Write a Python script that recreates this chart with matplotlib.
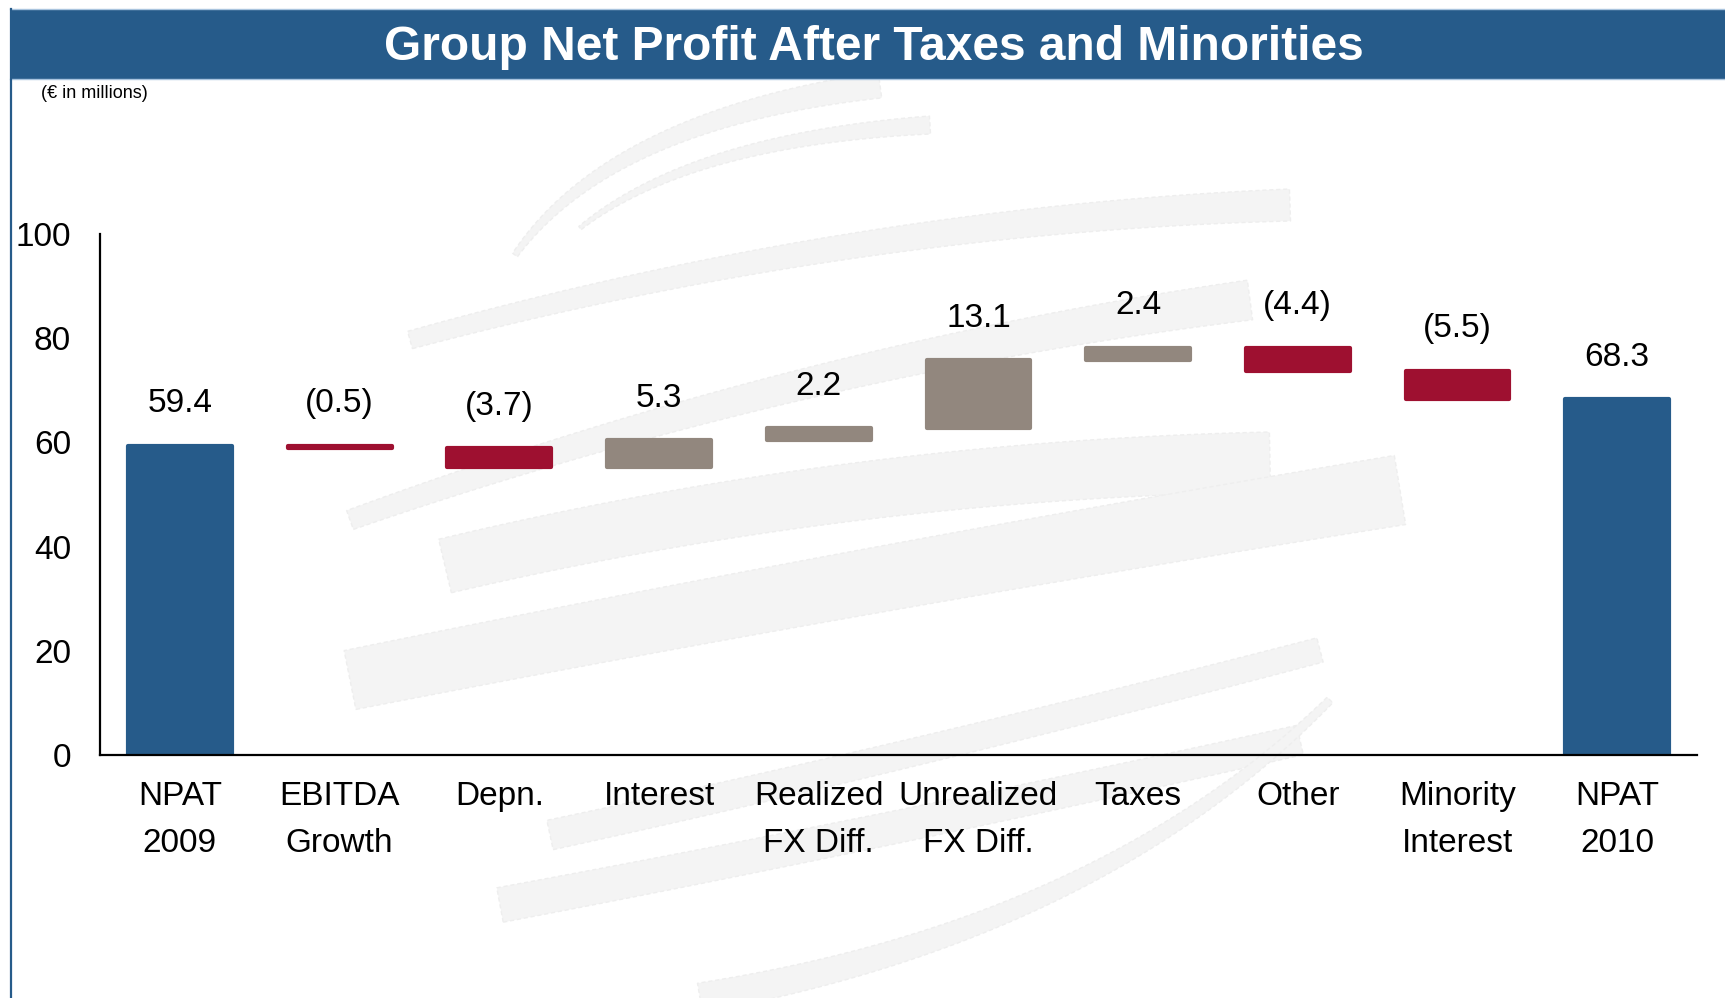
import numpy as np
import matplotlib
matplotlib.use("Agg")
import matplotlib.pyplot as plt
from matplotlib.patches import Rectangle, Polygon

plt.rcParams['font.family'] = ['Liberation Sans', 'DejaVu Sans']

# waterfall data (EUR millions)
categories = ['NPAT\n2009', 'EBITDA\nGrowth', 'Depn.', 'Interest', 'Realized\nFX Diff.',
              'Unrealized\nFX Diff.', 'Taxes', 'Other', 'Minority\nInterest', 'NPAT\n2010']
values = [59.4, -0.5, -3.7, 5.3, 2.2, 13.1, 2.4, -4.4, -5.5, 68.3]
is_total = [True, False, False, False, False, False, False, False, False, True]
value_labels = ['59.4', '(0.5)', '(3.7)', '5.3', '2.2', '13.1', '2.4', '(4.4)', '(5.5)', '68.3']

BLUE = '#265B8A'
RED = '#9E1030'
GREY = '#92877E'

# bottoms / heights for the floating bars
bottoms, heights, colors = [], [], []
running = 0.0
for v, tot in zip(values, is_total):
    if tot:
        bottoms.append(0.0)
        heights.append(v)
        colors.append(BLUE)
        running = v
    else:
        bottoms.append(running + min(v, 0))
        heights.append(abs(v))
        colors.append(GREY if v > 0 else RED)
        running += v
bottoms = np.array(bottoms)
heights = np.array(heights)

fig = plt.figure(figsize=(17.25, 9.98), dpi=100)

# background layer in pixel coordinates
bg = fig.add_axes([0, 0, 1, 1])
bg.set_xlim(0, 1725)
bg.set_ylim(998, 0)
bg.axis('off')


def swoosh(p0, p1, p2, w0, w1, n=80):
    p0, p1, p2 = map(np.asarray, (p0, p1, p2))
    t = np.linspace(0, 1, n)[:, None]
    pts = (1 - t) ** 2 * p0 + 2 * (1 - t) * t * p1 + t ** 2 * p2
    d = 2 * (1 - t) * (p1 - p0) + 2 * t * (p2 - p1)
    nrm = np.c_[-d[:, 1], d[:, 0]] / np.hypot(d[:, 0], d[:, 1])[:, None]
    w = (w0 + (w1 - w0) * t) / 2
    poly = np.vstack([pts + nrm * w, (pts - nrm * w)[::-1]])
    bg.add_patch(Polygon(poly, closed=True, fc='#F4F4F4', ec='#EEEEEE', lw=1,
                         ls=(0, (3, 2)), zorder=0))


# faint globe watermark
swoosh((515, 255), (610, 120), (880, 85), 6, 26)
swoosh((580, 228), (690, 140), (930, 125), 4, 18)
swoosh((410, 340), (850, 220), (1290, 205), 18, 32)
swoosh((350, 520), (800, 360), (1250, 300), 20, 40)
swoosh((445, 566), (850, 470), (1270, 462), 55, 60)
swoosh((350, 680), (850, 580), (1400, 490), 60, 70)
swoosh((550, 835), (900, 760), (1320, 650), 30, 25)
swoosh((500, 905), (900, 830), (1300, 740), 35, 30)
swoosh((700, 998), (1100, 930), (1330, 700), 30, 8)

# title band
bg.add_patch(Rectangle((10, 9), 1715, 70, fc=BLUE, ec='none', zorder=2))
bg.plot([10, 1725], [9, 9], color='#A9C4DE', lw=1, zorder=3)
bg.plot([10, 1725], [79, 79], color='#A9C4DE', lw=1, zorder=3)
bg.plot([10.5, 10.5], [9, 998], color=BLUE, lw=1.6, zorder=3)
bg.text(874, 47, 'Group Net Profit After Taxes and Minorities', ha='center', va='center',
        color='white', fontsize=34.5, fontweight='bold', zorder=4)
bg.text(41, 93, '(€ in millions)', ha='left', va='center', fontsize=13, color='black')

# chart
ax = fig.add_axes([0.058, 0.2435, 0.9258, 0.522])
ax.patch.set_visible(False)
x = np.arange(len(categories))
ax.bar(x, heights, bottom=bottoms, width=0.65, color=colors, edgecolor=colors,
       linewidth=3, joinstyle='round', zorder=2)

for xi, b, h, lbl in zip(x, bottoms, heights, value_labels):
    ax.annotate(lbl, (xi, b + h), xytext=(0, 30), textcoords='offset points',
                ha='center', va='center', fontsize=24)

ax.set_xlim(-0.5, len(categories) - 0.5)
ax.set_ylim(0, 100)
ax.set_yticks(np.arange(0, 101, 20))
ax.set_xticks(x)
ax.set_xticklabels(categories, fontsize=24, linespacing=1.64)
ax.tick_params(axis='y', length=0, pad=21, labelsize=24)
ax.tick_params(axis='x', length=0, pad=19)
for s in ('top', 'right'):
    ax.spines[s].set_visible(False)
for s in ('left', 'bottom'):
    ax.spines[s].set_linewidth(1.6)
    ax.spines[s].set_color('black')

fig.savefig('out.png', dpi=100, facecolor='white')
